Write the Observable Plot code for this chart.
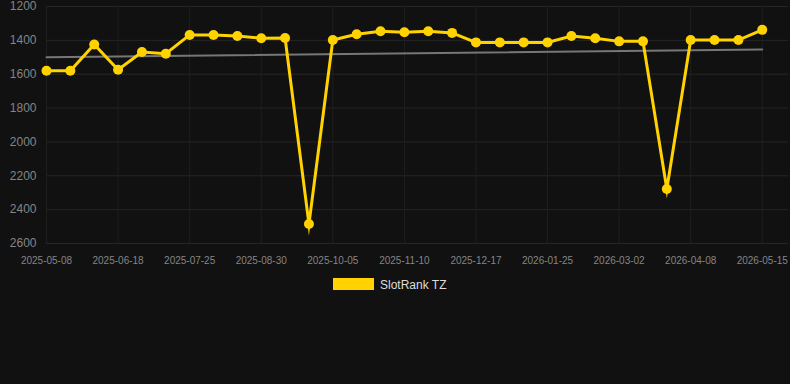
<!DOCTYPE html>
<html><head><meta charset="utf-8">
<script src="https://cdn.jsdelivr.net/npm/d3@7"></script>
<script src="https://cdn.jsdelivr.net/npm/@observablehq/plot@0.6"></script>
<style>
html,body{margin:0;padding:0;background:#111111;}
body{width:790px;height:384px;overflow:hidden;font-family:"Liberation Sans",Arial,sans-serif;}
#legend{position:relative;height:24px;margin-top:13px;}
#legend .sw{position:absolute;left:333px;top:1px;width:41px;height:12px;background:#ffd200;}
#legend .lb{position:absolute;left:380px;top:0px;font-size:12px;color:#dddddd;line-height:16px;}
</style></head>
<body>
<div id="chart"></div>
<div id="legend"><span class="sw"></span><span class="lb">SlotRank TZ</span></div>
<script>
const dates = ["2025-05-08","2025-05-22","2025-06-04","2025-06-18","2025-06-30","2025-07-13","2025-07-25","2025-08-06","2025-08-18","2025-08-30","2025-09-11","2025-09-23","2025-10-05","2025-10-17","2025-10-29","2025-11-10","2025-11-22","2025-12-05","2025-12-17","2025-12-30","2026-01-12","2026-01-25","2026-02-06","2026-02-18","2026-03-02","2026-03-14","2026-03-26","2026-04-08","2026-04-20","2026-05-02","2026-05-15"];
const ranks = [1580,1580,1424,1574,1469,1479,1368,1368,1374,1388,1386,2485,1398,1364,1346,1352,1346,1356,1412,1412,1412,1412,1374,1388,1406,1406,2278,1398,1398,1398,1338];
const tickIndex = [0,3,6,9,12,15,18,21,24,27,30];
const yTicks = [1200,1400,1600,1800,2000,2200,2400,2600];
const trendStart = 1500;
const trendEnd = 1454;
const seriesName = "SlotRank TZ";

const data = dates.map((d,i)=>({i, date:d, rank:ranks[i]}));
const trend = [{i:0, v:trendStart},{i:dates.length-1, v:trendEnd}];

const chart = Plot.plot({
  width:790, height:264,
  marginTop:6, marginBottom:21, marginLeft:46, marginRight:2,
  style:{background:"#111111", color:"#8a8a8a", fontFamily:"Liberation Sans, Arial, sans-serif", fontSize:"10px", overflow:"visible"},
  x:{type:"linear", domain:[0,31.1]},
  y:{domain:[1200,2600], reverse:true},
  marks:[
    Plot.gridY(yTicks, {stroke:"#262626", strokeOpacity:1}),
    Plot.gridX(tickIndex, {stroke:"#1f1f1f", strokeOpacity:1}),
    Plot.axisY(yTicks, {tickSize:0, tickPadding:10, fontSize:12, label:null, fill:"#858585", tickFormat:d=>String(d)}),
    Plot.axisX(tickIndex, {tickSize:0, tickPadding:13, fontSize:10, label:null, tickFormat:i=>dates[i], fill:"#858585"}),
    Plot.line(trend, {x:"i", y:"v", stroke:"#777777", strokeWidth:2}),
    Plot.line(data, {x:"i", y:"rank", stroke:"#ffd200", strokeWidth:3, strokeLinejoin:"miter", strokeMiterlimit:10}),
    Plot.dot(data, {x:"i", y:"rank", r:5, fill:"#ffd200", stroke:"none"})
  ]
});
document.getElementById("chart").appendChild(chart);
document.querySelector("#legend .lb").textContent = seriesName;
</script>
</body></html>
